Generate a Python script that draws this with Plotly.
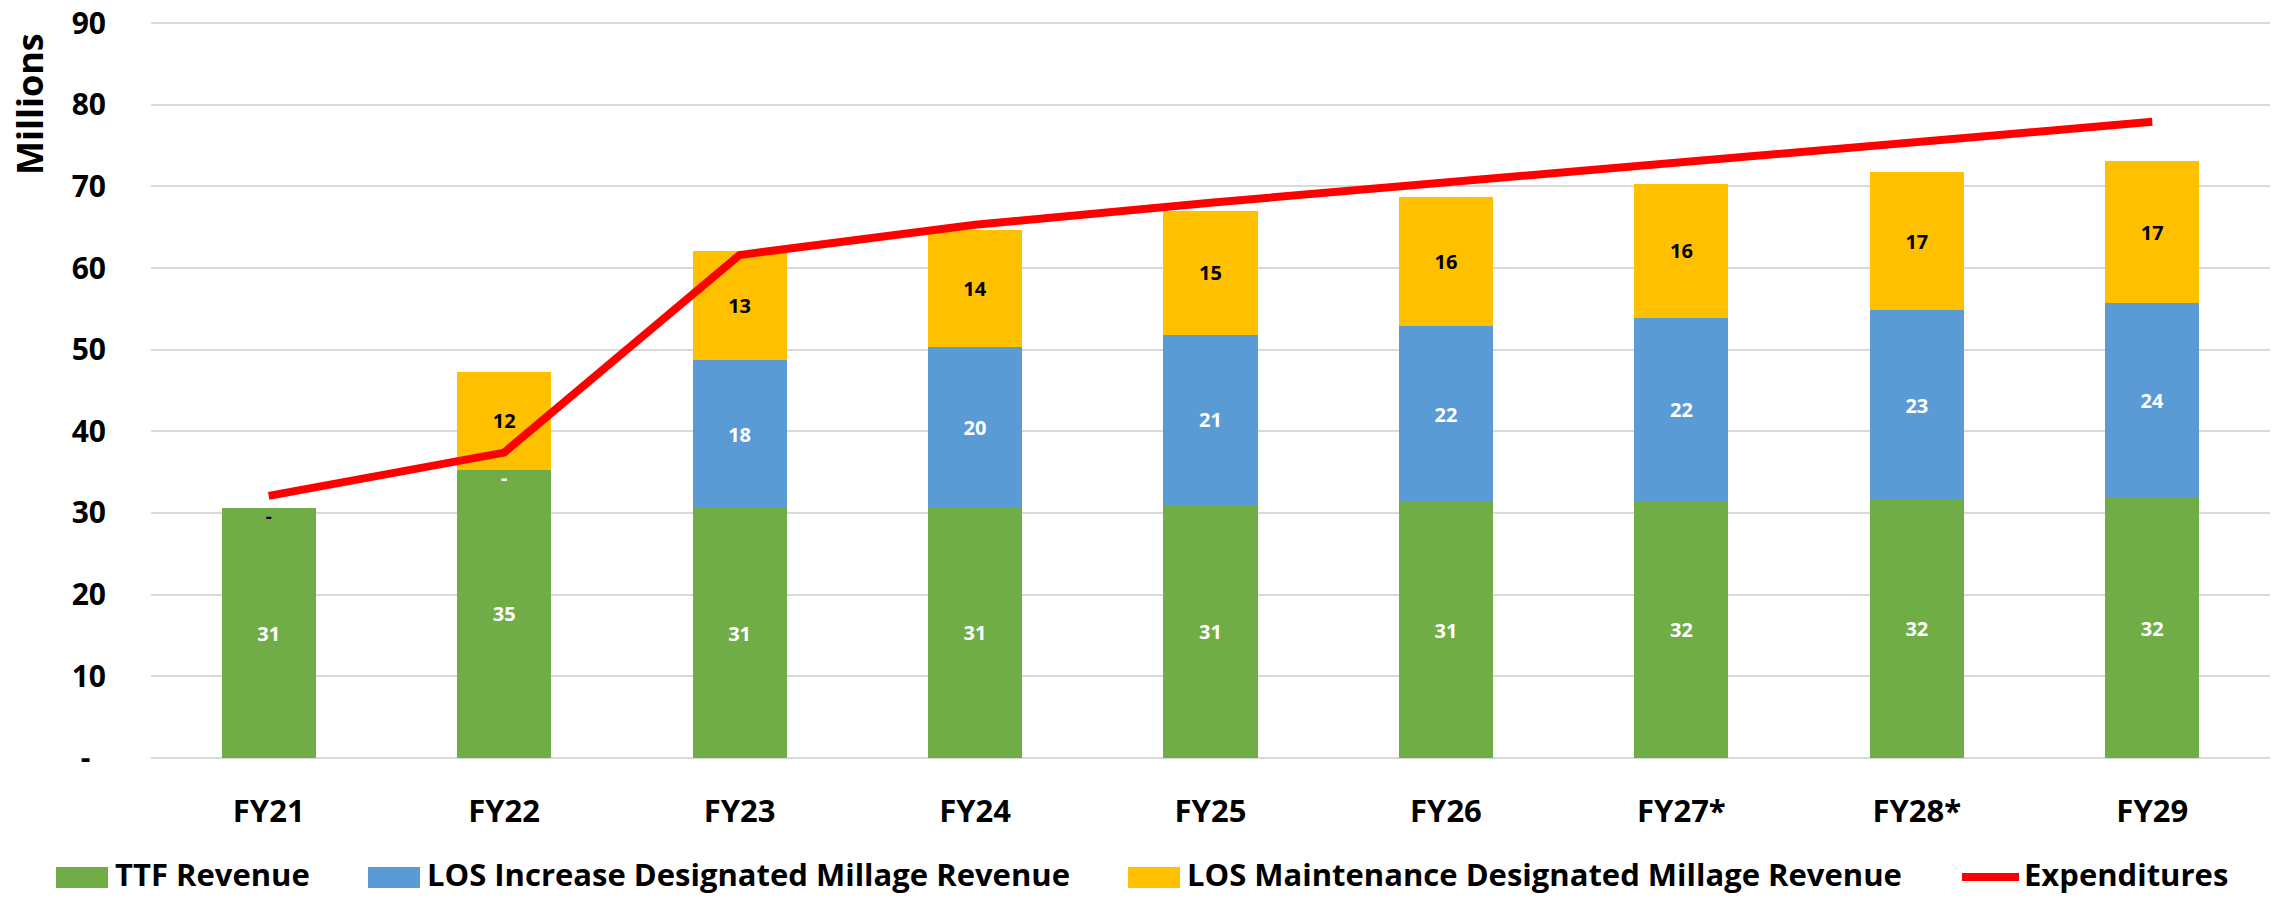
import plotly.graph_objects as go

categories = ["FY21", "FY22", "FY23", "FY24", "FY25", "FY26", "FY27*", "FY28*", "FY29"]
ttf_revenue = [30.6, 35.3, 30.6, 30.7, 31.0, 31.3, 31.5, 31.6, 31.8]
los_increase = [0.0, 0.0, 18.1, 19.6, 20.8, 21.6, 22.4, 23.2, 23.9]
los_maintenance = [0.0, 12.0, 13.4, 14.3, 15.2, 15.8, 16.4, 17.0, 17.4]
expenditures = [32.1, 37.4, 61.6, 65.3, 68.0, 70.5, 73.0, 75.4, 77.9]

y_tick_vals = [0, 10, 20, 30, 40, 50, 60, 70, 80, 90]
y_tick_text = ["-" + "\u00a0" * 2, "10", "20", "30", "40", "50", "60", "70", "80", "90"]

series_names = ["TTF Revenue", "LOS Increase Designated Millage Revenue",
                "LOS Maintenance Designated Millage Revenue", "Expenditures"]

GREEN = "#70AD47"
BLUE = "#5B9BD5"
YELLOW = "#FFC000"
RED = "#FF0000"
GRID = "#D9D9D9"
FONT = "Open Sans"

W, H = 2272, 897
# plot area in pixels (range padded slightly so the 0 and 90 gridlines are drawn)
PL, PR, PT, PB = 151, 2270, 21, 760
Y_RANGE = [-0.25, 90.25]


def px2x(px):
    return (px - PL) / (PR - PL)


def px2y(py):
    return (PB - py) / (PB - PT)


def lab(vals):
    return [f"{round(v)}" if v else "" for v in vals]


fig = go.Figure()

bar_specs = [
    (ttf_revenue, series_names[0], GREEN, "white"),
    (los_increase, series_names[1], BLUE, "white"),
    (los_maintenance, series_names[2], YELLOW, "black"),
]
for vals, name, color, tcol in bar_specs:
    fig.add_trace(go.Bar(
        x=categories, y=vals, name=name, marker=dict(color=color, line=dict(width=0)),
        text=lab(vals), textposition="inside", insidetextanchor="middle",
        textangle=0, constraintext="none",
        textfont=dict(family=FONT, size=20, color=tcol, weight="bold"),
        showlegend=False, hoverinfo="skip",
    ))

# "-" labels for zero-valued segments, placed at the top of the stack beneath them
bases_inc = ttf_revenue
bases_maint = [a + b for a, b in zip(ttf_revenue, los_increase)]
zx_inc = [c for c, v in zip(categories, los_increase) if v == 0]
zy_inc = [b for b, v in zip(bases_inc, los_increase) if v == 0]
zx_m = [c for c, v in zip(categories, los_maintenance) if v == 0]
zy_m = [b for b, v in zip(bases_maint, los_maintenance) if v == 0]
fig.add_trace(go.Scatter(x=zx_inc, y=zy_inc, mode="text", text=["-"] * len(zx_inc),
                         textposition="bottom center",
                         textfont=dict(family=FONT, size=20, color="white", weight="bold"),
                         showlegend=False, hoverinfo="skip"))
fig.add_trace(go.Scatter(x=zx_m, y=zy_m, mode="text", text=["-"] * len(zx_m),
                         textposition="bottom center",
                         textfont=dict(family=FONT, size=20, color="black", weight="bold"),
                         showlegend=False, hoverinfo="skip"))

fig.add_trace(go.Scatter(
    x=categories, y=expenditures, name=series_names[3], mode="lines",
    line=dict(color=RED, width=8), showlegend=False, hoverinfo="skip",
))

# Manual legend (wide swatches like the original)
legend_items = [
    (56, 108, 114, GREEN, "bar", series_names[0]),
    (368, 420, 426, BLUE, "bar", series_names[1]),
    (1128, 1180, 1186, YELLOW, "bar", series_names[2]),
    (1962, 2019, 2023, RED, "line", series_names[3]),
]
shapes = []
annotations = []
for x0, x1, tx, color, kind, name in legend_items:
    if kind == "bar":
        shapes.append(dict(type="rect", xref="paper", yref="paper",
                           x0=px2x(x0), x1=px2x(x1), y0=px2y(888), y1=px2y(867),
                           fillcolor=color, line=dict(width=0), layer="above"))
    else:
        shapes.append(dict(type="line", xref="paper", yref="paper",
                           x0=px2x(x0), x1=px2x(x1), y0=px2y(877), y1=px2y(877),
                           line=dict(color=color, width=8), layer="above"))
    annotations.append(dict(text=name, xref="paper", yref="paper", x=px2x(tx), y=px2y(896),
                            xanchor="left", yanchor="bottom", showarrow=False, borderpad=0,
                            font=dict(family=FONT, size=31, color="black", weight="bold")))

annotations.append(dict(text="Millions", xref="paper", yref="paper", x=px2x(29), y=px2y(31),
                        xanchor="center", yanchor="top", textangle=-90, showarrow=False,
                        font=dict(family=FONT, size=36, color="black", weight="bold")))

fig.update_layout(
    width=W, height=H,
    barmode="stack", bargap=0.6,
    margin=dict(l=PL, r=W - PR, t=PT, b=H - PB, pad=0),
    paper_bgcolor="white", plot_bgcolor="white",
    font=dict(family=FONT, size=30, color="black", weight="bold"),
    showlegend=False,
    shapes=shapes, annotations=annotations,
    xaxis=dict(showgrid=False, showline=False, zeroline=False, ticks="",
               tickfont=dict(family=FONT, size=31, color="black", weight="bold"),
               ticklabelstandoff=30),
    yaxis=dict(range=Y_RANGE, tickvals=y_tick_vals, ticktext=y_tick_text,
               showgrid=True, gridcolor=GRID, gridwidth=1.5, zeroline=False,
               showline=False, ticks="",
               tickfont=dict(family=FONT, size=30, color="black", weight="bold"),
               ticklabelstandoff=44),
)

fig.write_html("out.html", post_script="document.body.style.margin='0';",
               config={"displayModeBar": False})
